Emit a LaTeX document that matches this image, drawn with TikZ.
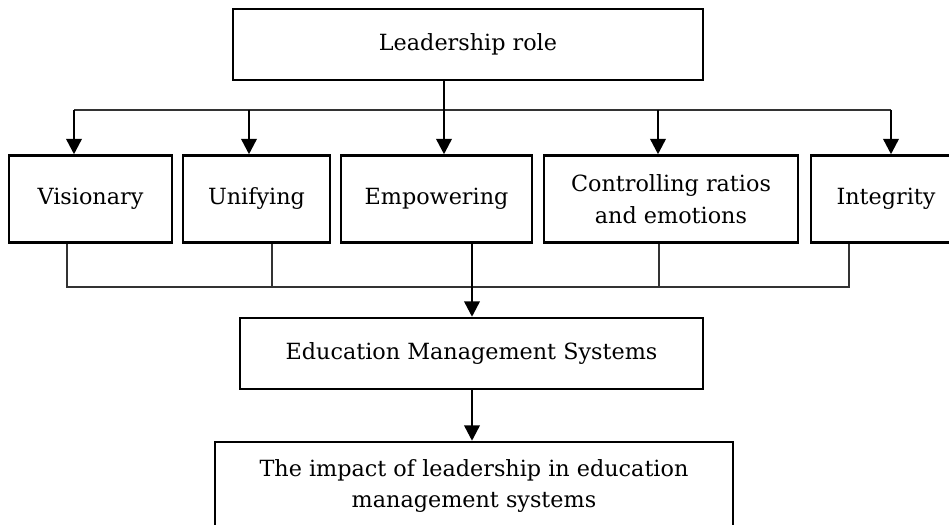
\documentclass[tikz,border=0pt]{standalone}
\usepackage{fontspec}
\setmainfont{DejaVu Serif}
\usetikzlibrary{arrows.meta}
\usetikzlibrary{positioning}

\begin{document}
\begin{tikzpicture}[
  x=1pt, y=-1pt,
  > = {Triangle[length=15.5pt,width=15.5pt]},
  box/.style = {draw, line width=2.5pt, align=center, inner sep=0pt, font=\fontsize{22.3}{31.5}\selectfont},
  arr/.style = {->, line width=2.5pt},
  wire/.style = {line width=1.3pt, black!80}
  ]
	\useasboundingbox (0,0) rectangle (949,524);
	\clip (0,0) rectangle (949,524);

	% top box and the five roles
	\node[box, minimum width=470pt, minimum height=71pt] (lead) at (468,44.5) {Leadership role};

	\node[box, minimum width=163pt, minimum height=87pt] (vis)   at (90.5,199)  {Visionary};
	\node[box, minimum width=147pt, minimum height=87pt] (uni)   at (256.5,199) {Unifying};
	\node[box, minimum width=191pt, minimum height=87pt] (emp)   at (436.5,199) {Empowering};
	\node[box, minimum width=254pt, minimum height=87pt] (ctrl)  at (671,199)   {Controlling ratios\\and emotions};
	\node[box, minimum width=150pt, minimum height=87pt] (integ) at (886,199)   {Integrity};

	\node[box, minimum width=463pt, minimum height=71pt] (ems)    at (471.5,353.5) {Education Management Systems};
	\node[box, minimum width=518pt, minimum height=88pt] (impact) at (474,486)     {The impact of leadership in education\\management systems};

	% taps on the upper bus
	\coordinate (t1) at (74,110);
	\coordinate (t2) at (249,110);
	\coordinate (t3) at (444,110);
	\coordinate (t4) at (658,110);
	\coordinate (t5) at (891,110);

	\draw[wire] (t1) -- (t5);
	\draw[arr] (t3 |- lead.south) -- (t3 |- emp.north);
	\draw[arr] (t1) -- (t1 |- vis.north);
	\draw[arr] (t2) -- (t2 |- uni.north);
	\draw[arr] (t4) -- (t4 |- ctrl.north);
	\draw[arr] (t5) -- (t5 |- integ.north);

	% lower bus
	\coordinate (b1) at (67,287);
	\coordinate (b2) at (272,287);
	\coordinate (b3) at (472,287);
	\coordinate (b4) at (659,287);
	\coordinate (b5) at (849,287);

	\draw[wire] (b1 |- vis.south) -- (b1) -- (b5) -- (b5 |- integ.south);
	\draw[wire] (b2 |- uni.south) -- (b2);
	\draw[wire] (b4 |- ctrl.south) -- (b4);
	\draw[arr] (b3 |- emp.south) -- (b3 |- ems.north);

	\draw[arr] (b3 |- ems.south) -- (b3 |- impact.north);

\end{tikzpicture}
\end{document}
